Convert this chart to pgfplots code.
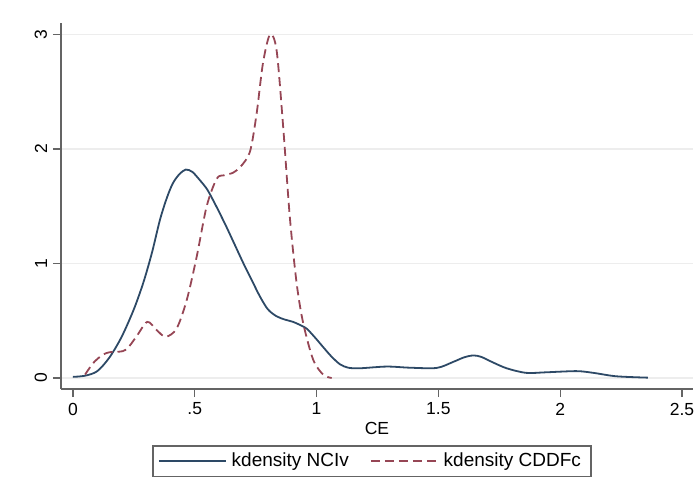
\documentclass[border=0pt]{standalone}
\usepackage{fontspec}
\setmainfont{Liberation Sans}
\usepackage{pgfplots}
\pgfplotsset{compat=1.18}
\definecolor{stnavy}{RGB}{45,73,102}
\definecolor{stmaroon}{RGB}{150,70,85}
\definecolor{axgray}{RGB}{100,100,100}

\begin{document}
\begin{tikzpicture}
\fontsize{17}{20}\selectfont
\useasboundingbox (-61pt,-90pt) rectangle (633pt,389pt);
\begin{axis}[
  at={(0,0)},anchor=south west,
  scale only axis,width=632pt,height=366pt,
  xmin=-0.049,xmax=2.545,ymin=-0.096,ymax=3.10,
  axis x line*=bottom,axis y line*=left,
  axis line style={-,axgray,line width=1.3pt},
  xtick={0,0.5,1,1.5,2,2.5},
  xticklabels={0,.5,1,1.5,2,2.5},
  ytick={0,1,2,3},
  tick align=outside,major tick length=8pt,
  tick style={axgray,line width=1.2pt},
  /pgf/number format/assume math mode=true,
  tick label style={font=\fontsize{17.5}{20}\selectfont},
  yticklabel style={rotate=90,anchor=south},
  ymajorgrids,
  grid style={black!7,line width=1.2pt},
  xlabel={CE},
  x label style={at={(axis description cs:0.5,-0.109)},anchor=center,
    font=\fontsize{17.5}{20}\selectfont},
  legend columns=2,
  legend style={at={(axis description cs:0.492,-0.197)},anchor=center,
    draw=axgray,line width=1.2pt,
    font=\fontsize{19}{22}\selectfont,
    inner xsep=5pt,inner ysep=5pt,
    nodes={inner xsep=5pt},
    /tikz/every even column/.append style={column sep=16pt}},
  legend image code/.code={\draw[#1] (0pt,0pt) -- (67pt,0pt);},
]
\addplot[stnavy,line width=1.8pt,smooth] coordinates {
  (0,0.01) (0.05,0.02) (0.1,0.06) (0.15,0.18) (0.2,0.36) (0.25,0.6)
  (0.29,0.84) (0.325,1.1) (0.357,1.38) (0.385,1.57) (0.41,1.7)
  (0.437,1.78) (0.463,1.82) (0.49,1.8) (0.52,1.73) (0.55,1.65)
  (0.576,1.55) (0.6,1.45) (0.63,1.32) (0.665,1.16) (0.7,1.0) (0.735,0.85)
  (0.768,0.71) (0.8,0.6) (0.835,0.54) (0.87,0.51) (0.904,0.49) (0.935,0.46)
  (0.96,0.43) (0.995,0.35) (1.027,0.27) (1.06,0.19) (1.096,0.12)
  (1.13,0.09) (1.178,0.085) (1.288,0.1) (1.383,0.09) (1.493,0.088)
  (1.56,0.14) (1.605,0.18) (1.643,0.197) (1.675,0.185) (1.72,0.14)
  (1.78,0.085) (1.86,0.045) (1.944,0.05) (2.067,0.06) (2.136,0.045)
  (2.23,0.015) (2.36,0.003)};
\addlegendentry{kdensity NCIv}
\addplot[stmaroon,line width=1.8pt,smooth,dash pattern=on 9pt off 5pt] coordinates {
  (0.05,0.03) (0.083,0.13) (0.12,0.2) (0.15,0.225) (0.19,0.23) (0.22,0.25)
  (0.26,0.36) (0.305,0.49) (0.343,0.42) (0.38,0.36) (0.425,0.43) (0.467,0.68)
  (0.508,1.06) (0.549,1.5) (0.59,1.74) (0.62,1.77) (0.655,1.79) (0.69,1.85)
  (0.727,1.98) (0.754,2.31) (0.78,2.75) (0.809,3.0) (0.836,2.86) (0.863,2.19)
  (0.89,1.41) (0.918,0.83) (0.945,0.48) (0.986,0.16) (1.027,0.03) (1.062,0.0)};
\addlegendentry{kdensity CDDFc}
\end{axis}
\end{tikzpicture}
\end{document}
